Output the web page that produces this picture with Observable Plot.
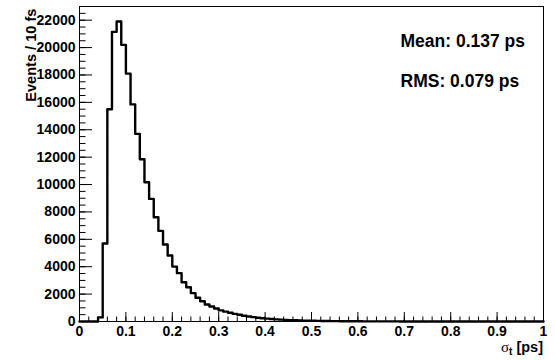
<!DOCTYPE html>
<html>
<head>
<meta charset="utf-8">
<script src="https://cdn.jsdelivr.net/npm/d3@7"></script>
<script src="https://cdn.jsdelivr.net/npm/@observablehq/plot@0.6"></script>
<style>
  html, body { margin: 0; padding: 0; background: #fff; }
  #chart { width: 555px; height: 360px; }
</style>
</head>
<body>
<div id="chart"></div>
<script>
// ---- data ----
const binWidth = 0.01;            // 10 fs bins, sigma_t from 0 to 1 ps
const counts = [
  0, 0, 0, 0, 300, 5700, 15500, 21150, 21900, 20200,
  18100, 15850, 13700, 11850, 10170, 8950, 7610, 6620, 5620, 4820,
  4010, 3530, 2870, 2500, 2070, 1730, 1480, 1240, 1090, 950,
  810, 720, 640, 560, 490, 425, 370, 320, 278, 240,
  208, 180, 155, 134, 116, 100, 88, 77, 67, 58,
  51, 45, 39, 34, 30, 26, 23, 20, 18, 16,
  14, 12, 11, 10, 9, 8, 7, 6, 6, 5,
  5, 4, 4, 3, 3, 3, 2, 2, 2, 2,
  2, 1, 1, 1, 1, 1, 1, 1, 1, 0,
  1, 0, 1, 0, 0, 1, 0, 0, 0, 0
];
const xTicks = [0, 0.1, 0.2, 0.3, 0.4, 0.5, 0.6, 0.7, 0.8, 0.9, 1];
const yTicks = [0, 2000, 4000, 6000, 8000, 10000, 12000, 14000, 16000, 18000, 20000, 22000];
const statLabels = ["Mean: 0.137 ps", "RMS: 0.079 ps"];
const yTitle = "Events / 10 fs";
const xTitleSymbol = "σ";
const xTitleSub = "t";
const xTitleUnit = " [ps]";

// ---- build table ----
const steps = counts.map((c, i) => ({x: i * binWidth, y: c}));
steps.push({x: counts.length * binWidth, y: counts[counts.length - 1]});
const xMinor = d3.range(0, 1.0001, 0.02);
const yMinor = d3.range(0, 23001, 500);

const W = 555, H = 360, mL = 79, mR = 12, mT = 6, mB = 39;
const fw = W - mL - mR, fh = H - mT - mB;

const chart = Plot.plot({
  width: W,
  height: H,
  marginLeft: mL,
  marginRight: mR,
  marginTop: mT,
  marginBottom: mB,
  style: {fontFamily: "'Liberation Sans', Arial, Helvetica, sans-serif", fontSize: "14px", fontWeight: "bold", background: "#fff", color: "#000"},
  x: {domain: [0, 1]},
  y: {domain: [0, 23000]},
  marks: [
    Plot.tickX(xMinor, {x: d => d, stroke: "#000", strokeWidth: 1, insetTop: fh - 4.5}),
    Plot.tickX(xTicks, {x: d => d, stroke: "#000", strokeWidth: 1, insetTop: fh - 9}),
    Plot.tickY(yMinor, {y: d => d, stroke: "#000", strokeWidth: 1, insetRight: fw - 6.5}),
    Plot.tickY(yTicks, {y: d => d, stroke: "#000", strokeWidth: 1, insetRight: fw - 13}),
    Plot.frame({stroke: "#000", strokeWidth: 1}),
    Plot.line(steps, {x: "x", y: "y", curve: "step-after", stroke: "#000", strokeWidth: 2.4}),
    Plot.axisX(xTicks, {tickSize: 0, tickPadding: 5, tickFormat: d => String(d), label: null, fontSize: 14, fontWeight: "bold"}),
    Plot.axisY(yTicks, {tickSize: 0, tickPadding: 4, tickFormat: d => String(d), label: null, fontSize: 14, fontWeight: "bold"}),
    Plot.text([statLabels[0]], {text: d => d, frameAnchor: "top-left", textAnchor: "start", lineAnchor: "middle", dx: 321, dy: 35, fontSize: 17.5, fontWeight: "bold"}),
    Plot.text([statLabels[1]], {text: d => d, frameAnchor: "top-left", textAnchor: "start", lineAnchor: "middle", dx: 321, dy: 75, fontSize: 17.5, fontWeight: "bold"}),
    Plot.text([yTitle], {text: d => d, frameAnchor: "top-left", rotate: -90, textAnchor: "end", lineAnchor: "bottom", dx: -44, dy: 2, fontSize: 14.6, fontWeight: "bold"})
  ]
});

const svg = d3.select(chart);
const xt = svg.append("text")
  .attr("x", W - mR)
  .attr("y", 352)
  .attr("text-anchor", "end")
  .attr("font-size", 14.5)
  .attr("font-weight", "bold")
  .attr("fill", "#000");
xt.append("tspan").attr("font-family", "'Liberation Serif', 'DejaVu Serif', serif").attr("font-weight", "normal").attr("font-size", 15).text(xTitleSymbol);
xt.append("tspan").attr("font-size", 10).attr("dy", 3).text(xTitleSub);
xt.append("tspan").attr("dy", -3).text(xTitleUnit);

document.getElementById("chart").appendChild(chart);
</script>
</body>
</html>
